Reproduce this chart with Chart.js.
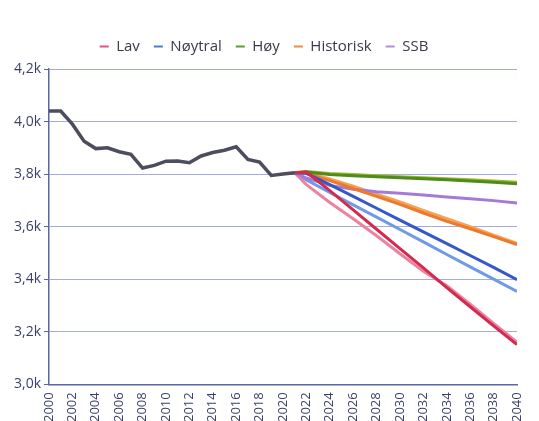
<!DOCTYPE html>
<html>
<head>
<meta charset="utf-8">
<script src="https://cdn.jsdelivr.net/npm/chart.js@4"></script>
<style>
  html, body { margin: 0; padding: 0; background: #fff; }
  #wrap { width: 539px; height: 421px; }
</style>
</head>
<body>
<div id="wrap"><canvas id="chart0" width="539" height="421"></canvas></div>
<script>
// historikk 2000-2021
const histYears = [2000,2001,2002,2003,2004,2005,2006,2007,2008,2009,2010,2011,2012,2013,2014,2015,2016,2017,2018,2019,2020,2021];
const histVals  = [4040,4040,3990,3925,3897,3900,3885,3875,3823,3833,3849,3850,3843,3869,3882,3891,3904,3856,3846,3795,3800,3805];

// framskrivinger
const projYears = [2021,2022,2024,2026,2028,2030,2032,2034,2036,2038,2040];
const lavA   = [3805,3808,3737,3664,3590,3516,3443,3368,3295,3222,3151];
const lavB   = [3805,3760,3692,3630,3565,3497,3430,3375,3305,3232,3160];
const noytA  = [3805,3803,3760,3715,3670,3625,3580,3535,3490,3445,3398];
const noytB  = [3805,3778,3730,3683,3636,3589,3542,3494,3447,3400,3353];
const hoyA   = [3805,3808,3798,3794,3790,3786,3782,3778,3774,3769,3763];
const hoyB   = [3805,3810,3802,3798,3794,3790,3786,3782,3778,3774,3769];
const histA  = [3805,3802,3775,3745,3715,3685,3652,3620,3592,3562,3532];
const histB  = [3805,3805,3782,3754,3724,3694,3662,3630,3600,3568,3536];
const ssb    = [3805,3785,3757,3742,3733,3727,3720,3713,3706,3699,3690];

const legendNames = ["Lav", "Nøytral", "Høy", "Historisk", "SSB"];

function pts(years, vals){
    return years.map((y, i) => ({x: y, y: vals[i]}));
}

function line(label, years, vals, color, order, width){
    return {
        label: label,
        data: pts(years, vals),
        borderColor: color,
        backgroundColor: color,
        borderWidth: width || 3,
        pointRadius: 0,
        tension: 0,
        order: order
    };
}

const datasets = [
    line(legendNames[0], projYears, lavA,  "#d42a4e", 1),
    line(legendNames[1], projYears, noytA, "#3558c8", 3),
    line(legendNames[2], projYears, hoyA,  "#4e8a1c", 2),
    line(legendNames[3], projYears, histA, "#ec7a2c", 5),
    line(legendNames[4], projYears, ssb,   "#a47ad8", 6),
    line("", projYears, lavB,  "#ec82a0", 7),
    line("", projYears, noytB, "#6f9ae8", 8),
    line("", projYears, hoyB,  "#a2b82c", 9),
    line("", projYears, histB, "#f3a25a", 10),
    line("", histYears, histVals, "#4d4d60", 0, 3.5)
];

const legendCols = ["#e2507c", "#4a7ad8", "#5e9a2a", "#f08a40", "#b48ae2"];

// a little extra room under the legend
const legendMargin = {
    id: "legendMargin",
    beforeInit(chart){
        const fit = chart.legend.fit;
        chart.legend.fit = function(){
            fit.bind(chart.legend)();
            this.height += 5;
        };
    }
};

const ctx = document.getElementById("chart0").getContext("2d");
const chart = new Chart(ctx, {
    type: "line",
    data: { datasets: datasets },
    plugins: [legendMargin],
    options: {
        responsive: false,
        animation: false,
        layout: { padding: { top: 25, right: 22, left: 11, bottom: -1 } },
        plugins: {
            tooltip: { enabled: false },
            legend: {
                position: "top",
                labels: {
                    usePointStyle: true,
                    pointStyle: "line",
                    pointStyleWidth: 9,
                    boxHeight: 9,
                    padding: 14,
                    color: "#3a3a4a",
                    font: { family: "'Open Sans'", size: 15 },
                    sort: (a, b) => a.datasetIndex - b.datasetIndex,
                    filter: function(item){
                        const k = legendNames.indexOf(item.text);
                        if (k < 0 || item.text === "") return false;
                        item.strokeStyle = legendCols[k];
                        item.fillStyle = legendCols[k];
                        item.lineWidth = 2;
                        return true;
                    }
                }
            }
        },
        scales: {
            x: {
                type: "linear",
                min: 2000,
                max: 2040,
                grid: { display: false },
                border: { display: true, color: "#5a66a8", width: 1.5 },
                ticks: {
                    stepSize: 2,
                    autoSkip: false,
                    minRotation: 90,
                    maxRotation: 90,
                    padding: 0,
                    color: "#3a3f6a",
                    font: { family: "'Open Sans'", size: 13 },
                    callback: v => String(v)
                }
            },
            y: {
                min: 3000,
                max: 4200,
                grid: { color: "#a4aae2", lineWidth: 1, tickColor: "#5a66a8", tickLength: 5 },
                border: { display: true, color: "#5a66a8", width: 1.5 },
                ticks: {
                    stepSize: 200,
                    padding: 3,
                    color: "#3a3f6a",
                    font: { family: "'Open Sans'", size: 14 },
                    callback: v => (v / 1000).toFixed(1).replace(".", ",") + "k"
                }
            }
        }
    }
});
</script>
</body>
</html>
